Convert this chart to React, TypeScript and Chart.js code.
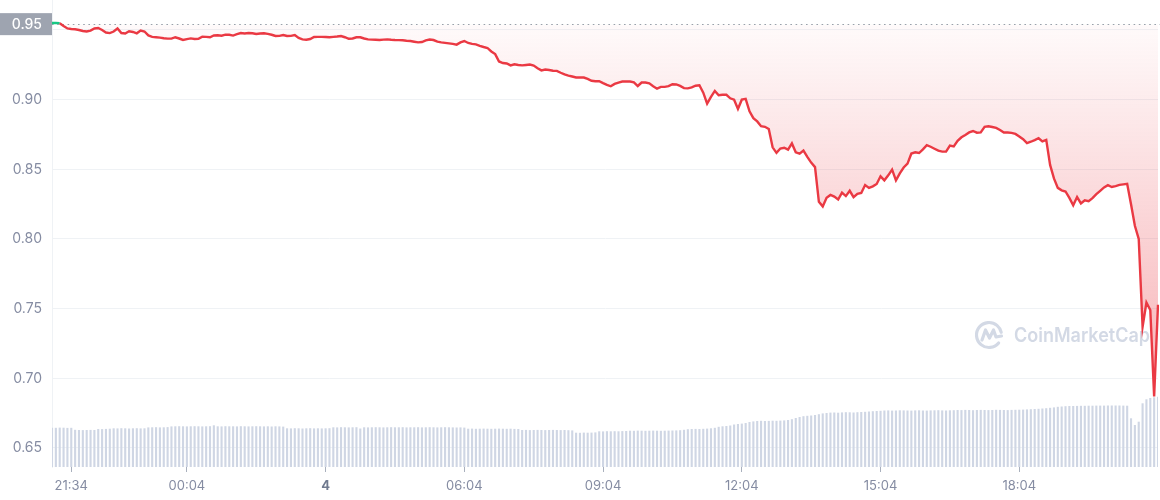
import React, { useEffect, useRef } from 'react';
import { Chart, registerables } from 'chart.js';

Chart.register(...registerables);

// ---- data ----
const startMinutes = 21 * 60 + 9; // first sample 21:09, 5-minute samples
const stepMinutes = 5;
const sampleCount = 288;
const timeLabels: string[] = Array.from({ length: sampleCount }, (_, i) => {
  const t = (startMinutes + i * stepMinutes) % 1440;
  return `${String(Math.floor(t / 60)).padStart(2, '0')}:${String(t % 60).padStart(2, '0')}`;
});

const tickTimes = ['21:34', '00:04', '03:04', '06:04', '09:04', '12:04', '15:04', '18:04'];
const tickTexts = ['21:34', '00:04', '4', '06:04', '09:04', '12:04', '15:04', '18:04'];

const openPrice = 0.9542;
const openLabel = '0.95';
const yMin = 0.63636;
const yMax = 0.97153;
const yStep = 0.05;

const priceValues = [
  0.9550, 0.9550, 0.9549, 0.9529, 0.9511, 0.9507, 0.9505, 0.9500, 0.9493, 0.9489, 0.9496, 0.9511,
  0.9514, 0.9500, 0.9482, 0.9478, 0.9489, 0.9511, 0.9478, 0.9475, 0.9491, 0.9486, 0.9476, 0.9496,
  0.9489, 0.9461, 0.9451, 0.9448, 0.9445, 0.9441, 0.9438, 0.9438, 0.9448, 0.9439, 0.9429, 0.9435,
  0.9440, 0.9435, 0.9437, 0.9452, 0.9451, 0.9448, 0.9461, 0.9462, 0.9459, 0.9467, 0.9466, 0.9460,
  0.9470, 0.9478, 0.9475, 0.9478, 0.9477, 0.9471, 0.9475, 0.9477, 0.9472, 0.9466, 0.9457, 0.9458,
  0.9464, 0.9457, 0.9458, 0.9464, 0.9443, 0.9433, 0.9430, 0.9435, 0.9450, 0.9451, 0.9451, 0.9450,
  0.9448, 0.9451, 0.9453, 0.9457, 0.9448, 0.9437, 0.9439, 0.9448, 0.9448, 0.9439, 0.9433, 0.9431,
  0.9430, 0.9428, 0.9431, 0.9433, 0.9430, 0.9428, 0.9427, 0.9426, 0.9423, 0.9421, 0.9416, 0.9411,
  0.9414, 0.9426, 0.9432, 0.9428, 0.9416, 0.9411, 0.9408, 0.9404, 0.9400, 0.9395, 0.9411, 0.9421,
  0.9407, 0.9400, 0.9397, 0.9386, 0.9378, 0.9371, 0.9346, 0.9327, 0.9274, 0.9263, 0.9260, 0.9246,
  0.9254, 0.9249, 0.9246, 0.9249, 0.9252, 0.9245, 0.9225, 0.9210, 0.9216, 0.9213, 0.9208, 0.9207,
  0.9193, 0.9181, 0.9173, 0.9166, 0.9159, 0.9159, 0.9159, 0.9149, 0.9136, 0.9132, 0.9133, 0.9119,
  0.9106, 0.9096, 0.9113, 0.9123, 0.9130, 0.9130, 0.9130, 0.9124, 0.9098, 0.9123, 0.9123, 0.9117,
  0.9097, 0.9079, 0.9092, 0.9092, 0.9097, 0.9111, 0.9109, 0.9099, 0.9083, 0.9081, 0.9088, 0.9100,
  0.9103, 0.9050, 0.8971, 0.9020, 0.9063, 0.9032, 0.9035, 0.9035, 0.9010, 0.9000, 0.8934, 0.9000,
  0.9006, 0.8916, 0.8867, 0.8844, 0.8810, 0.8805, 0.8789, 0.8658, 0.8618, 0.8649, 0.8655, 0.8641,
  0.8686, 0.8622, 0.8612, 0.8635, 0.8590, 0.8548, 0.8516, 0.8267, 0.8234, 0.8296, 0.8316, 0.8304,
  0.8283, 0.8333, 0.8308, 0.8346, 0.8300, 0.8324, 0.8330, 0.8387, 0.8367, 0.8378, 0.8395, 0.8450,
  0.8421, 0.8457, 0.8498, 0.8421, 0.8471, 0.8513, 0.8541, 0.8613, 0.8622, 0.8617, 0.8643, 0.8674,
  0.8662, 0.8648, 0.8634, 0.8627, 0.8627, 0.8671, 0.8664, 0.8704, 0.8730, 0.8747, 0.8765, 0.8775,
  0.8763, 0.8765, 0.8805, 0.8809, 0.8804, 0.8797, 0.8782, 0.8764, 0.8764, 0.8762, 0.8754, 0.8736,
  0.8716, 0.8688, 0.8698, 0.8710, 0.8723, 0.8700, 0.8711, 0.8532, 0.8435, 0.8367, 0.8349, 0.8341,
  0.8295, 0.8242, 0.8301, 0.8255, 0.8278, 0.8272, 0.8293, 0.8322, 0.8346, 0.8370, 0.8386, 0.8373,
  0.8380, 0.8388, 0.8392, 0.8396, 0.8250, 0.8095, 0.8000, 0.7370, 0.7544, 0.7490, 0.6870, 0.7528,
];

const volumeValues = [
  3.93, 3.92, 3.94, 3.93, 3.91, 3.92,
  3.72, 3.70, 3.69, 3.70, 3.71, 3.70,
  3.80, 3.79, 3.81, 3.83,
  3.87, 3.86, 3.88, 3.87, 3.85, 3.87, 3.88, 3.86, 3.87,
  3.96, 3.97, 3.98, 3.96, 3.97, 3.99,
  4.06, 4.07, 4.08, 4.07, 4.06, 4.07, 4.08, 4.07, 4.06, 4.07, 4.08,
  4.17,
  4.07, 4.06, 4.08, 4.07, 4.07, 4.06, 4.08, 4.07, 4.06, 4.07, 4.08, 4.07, 4.06, 4.07, 4.05, 4.07, 4.06, 4.04,
  3.87, 3.86, 3.88, 3.87, 3.85, 3.87, 3.88, 3.86, 3.87, 3.86, 3.87, 3.88,
  3.97, 3.96, 3.98, 3.97, 3.96, 3.97, 3.98, 3.85, 3.97, 3.96, 3.97, 3.98, 3.97, 3.96, 3.97, 3.98, 3.97,
  3.97, 3.98, 3.96, 3.97, 3.97, 3.98, 3.96, 3.97, 3.98, 3.97, 3.96, 3.97, 3.98, 3.97, 3.96, 3.95, 3.96, 3.94,
  3.83, 3.84, 3.82, 3.83, 3.84, 3.83, 3.82, 3.83, 3.84, 3.83, 3.82, 3.83, 3.81, 3.80,
  3.70, 3.71, 3.69, 3.70, 3.71, 3.70, 3.69, 3.70, 3.71, 3.70, 3.69, 3.70, 3.68, 3.66,
  3.43, 3.42, 3.44, 3.43, 3.44, 3.46,
  3.57, 3.56, 3.58, 3.57, 3.58, 3.57, 3.59, 3.60,
  3.63, 3.62, 3.64, 3.63, 3.62, 3.63, 3.64, 3.63, 3.62, 3.63, 3.64, 3.65, 3.66, 3.68, 3.72,
  3.78, 3.80, 3.81, 3.80, 3.82, 3.84, 3.87, 3.92,
  4.02, 4.07, 4.10, 4.15,
  4.25, 4.30, 4.34, 4.40,
  4.50, 4.56, 4.60, 4.62, 4.60, 4.61, 4.63, 4.62, 4.64, 4.66, 4.70, 4.78, 4.90,
  5.00, 5.08, 5.12, 5.15, 5.20, 5.28,
  5.36, 5.40, 5.44, 5.45, 5.43, 5.46, 5.48, 5.47, 5.45, 5.48, 5.50, 5.52, 5.55, 5.58, 5.60,
  5.62, 5.65, 5.66, 5.64, 5.65, 5.67, 5.66, 5.65, 5.64, 5.66, 5.67, 5.65, 5.64, 5.66, 5.67, 5.68, 5.66, 5.65, 5.67, 5.68,
  5.70, 5.69, 5.71, 5.70, 5.68, 5.70, 5.71, 5.70, 5.69, 5.70, 5.72, 5.71, 5.70, 5.69, 5.71, 5.72, 5.73, 5.74, 5.76, 5.78, 5.80, 5.82, 5.85, 5.88, 5.92, 5.96,
  6.02, 6.05, 6.08, 6.10, 6.10, 6.11, 6.12, 6.12, 6.13, 6.13, 6.14, 6.14, 6.14, 6.15, 6.15, 6.15, 6.15, 6.14, 6.13,
  4.87, 4.20, 4.53, 6.37, 6.77, 6.90, 6.97, 7.03,
];
const volumeAxisMax = 46.7;

const RED = '#ea3943';
const GREEN = '#16c784';
const TICK_COLOR = '#858ca2';

const overlayPlugin = {
  id: 'cmcOverlay',
  beforeDatasetsDraw(chart: any) {
    const { ctx, chartArea, scales } = chart;
    const y = scales.y;
    ctx.save();
    // watermark
    const wmColor = '#d3d9e5';
    const cx = chartArea.right - 169;
    const cy = chartArea.top + 335;
    ctx.strokeStyle = wmColor;
    ctx.lineWidth = 3.2;
    ctx.lineCap = 'round';
    ctx.lineJoin = 'round';
    ctx.beginPath();
    ctx.arc(cx, cy, 12.5, 0.22 * Math.PI, 1.93 * Math.PI);
    ctx.stroke();
    ctx.beginPath();
    ctx.moveTo(cx - 7, cy + 5);
    ctx.lineTo(cx - 3.5, cy - 5);
    ctx.lineTo(cx + 0.5, cy + 3);
    ctx.lineTo(cx + 4.5, cy - 5);
    ctx.lineTo(cx + 7, cy + 2);
    ctx.lineTo(cx + 12.5, cy + 1);
    ctx.stroke();
    ctx.fillStyle = wmColor;
    ctx.font = '600 20px Inter, "Noto Sans", sans-serif';
    ctx.textAlign = 'left';
    ctx.textBaseline = 'middle';
    ctx.fillText('CoinMarketCap', cx + 25, cy + 1, 136);
    // dotted open-price line
    const py = Math.round(y.getPixelForValue(openPrice)) + 0.5;
    ctx.setLineDash([1.6, 3.6]);
    ctx.strokeStyle = '#9aa1ae';
    ctx.lineWidth = 1;
    ctx.lineCap = 'butt';
    ctx.beginPath();
    ctx.moveTo(chartArea.left, py);
    ctx.lineTo(chart.width, py);
    ctx.stroke();
    ctx.restore();
  },
  afterDraw(chart: any) {
    const { ctx, scales } = chart;
    const y = scales.y;
    const py = y.getPixelForValue(openPrice);
    ctx.save();
    ctx.fillStyle = '#9ea4b0';
    ctx.fillRect(0, py - 11, 52, 22);
    ctx.fillStyle = '#ffffff';
    ctx.font = '500 14px Inter, "Noto Sans", sans-serif';
    ctx.textAlign = 'right';
    ctx.textBaseline = 'middle';
    ctx.fillText(openLabel, 42, py + 0.5);
    ctx.restore();
  },
};

export default function App() {
  const canvasRef = useRef<HTMLCanvasElement | null>(null);

  useEffect(() => {
    document.body.style.margin = '0';
    Chart.defaults.font.family = 'Inter, "Noto Sans", sans-serif';
    const canvas = canvasRef.current;
    if (!canvas) return;

    const chart = new Chart(canvas, {
      type: 'line',
      data: {
        labels: timeLabels,
        datasets: [
          {
            type: 'line',
            label: 'Price',
            data: priceValues,
            yAxisID: 'y',
            borderColor: RED,
            borderWidth: 2.4,
            pointRadius: 0,
            pointHoverRadius: 0,
            tension: 0,
            order: 1,
            segment: {
              borderColor: (ctx: any) =>
                ctx.p0.parsed.y > openPrice && ctx.p1.parsed.y > openPrice ? GREEN : RED,
            },
            backgroundColor: (ctx: any) => {
              const ch = ctx.chart;
              const area = ch.chartArea;
              if (!area) return 'rgba(234,57,67,0.12)';
              const g = ch.ctx.createLinearGradient(0, area.top, 0, area.bottom);
              g.addColorStop(0, 'rgba(234,57,67,0)');
              g.addColorStop(1, 'rgba(234,57,67,0.45)');
              return g;
            },
            fill: { target: { value: openPrice }, above: 'rgba(22,199,132,0.08)' },
          } as any,
          {
            type: 'bar',
            label: 'Volume',
            data: volumeValues,
            yAxisID: 'y1',
            backgroundColor: '#cfd6e4',
            barPercentage: 0.55,
            categoryPercentage: 1,
            order: 2,
          } as any,
        ],
      },
      options: {
        animation: false,
        responsive: false,
        events: [],
        layout: { padding: { left: 0, right: 2, top: 0, bottom: 0 } },
        plugins: {
          legend: { display: false },
          tooltip: { enabled: false },
        },
        scales: {
          x: {
            type: 'category',
            offset: false,
            grid: {
              display: true,
              drawOnChartArea: false,
              drawTicks: true,
              tickLength: 5,
              tickColor: '#a9b0bd',
              offset: false,
            },
            border: { display: false },
            ticks: {
              autoSkip: false,
              maxRotation: 0,
              padding: 6,
              color: (ctx: any) => (ctx.tick && ctx.tick.label === '4' ? '#707a8f' : TICK_COLOR),
              font: (ctx: any) =>
                ctx.tick && ctx.tick.label === '4'
                  ? { size: 13, weight: 'bold' }
                  : { size: 13 },
              callback: function (this: any, value: any) {
                const lbl = timeLabels[value as number];
                const k = tickTimes.indexOf(lbl);
                return k >= 0 ? tickTexts[k] : '';
              },
            },
            afterBuildTicks: (scale: any) => {
              scale.ticks = scale.ticks.filter((t: any) => tickTimes.includes(timeLabels[t.value]));
            },
            afterFit: (scale: any) => {
              scale.height = 33;
              scale.paddingLeft = 0;
              scale.paddingRight = 0;
            },
          } as any,
          y: {
            type: 'linear',
            position: 'left',
            min: yMin,
            max: yMax,
            grid: { color: '#eff2f5', drawTicks: false },
            border: { display: true, color: '#eff2f5' },
            ticks: {
              stepSize: yStep,
              includeBounds: false,
              padding: 10,
              font: { size: 14 },
              color: (ctx: any) =>
                ctx.tick && Math.abs(ctx.tick.value - 0.95) < 1e-6 ? 'rgba(0,0,0,0)' : TICK_COLOR,
              callback: (v: any) => Number(v).toFixed(2),
            },
            afterFit: (scale: any) => {
              scale.width = 52;
              scale.paddingTop = 0;
              scale.paddingBottom = 0;
            },
          } as any,
          y1: {
            type: 'linear',
            display: false,
            min: 0,
            max: volumeAxisMax,
          },
        },
      },
      plugins: [overlayPlugin],
    });

    return () => chart.destroy();
  }, []);

  return (
    <div style={{ width: 1160, height: 500 }}>
      <canvas ref={canvasRef} width={1160} height={500} style={{ display: 'block' }} />
    </div>
  );
}
